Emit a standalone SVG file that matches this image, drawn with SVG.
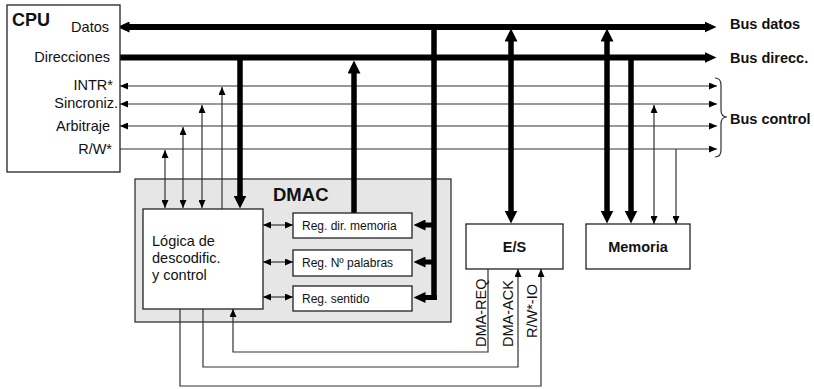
<svg xmlns="http://www.w3.org/2000/svg" width="814" height="389" viewBox="0 0 814 389">
<style>
text{font-family:"Liberation Sans",Arial,sans-serif;fill:#111;}
.t{font-size:14.5px;}
.b{font-weight:bold;font-size:14.5px;}
.r{font-size:12px;}
.box{fill:#fff;stroke:#222;stroke-width:1.3;}
.thick{stroke:#000;stroke-width:6;fill:none;}
.tv{stroke:#000;stroke-width:5.5;fill:none;}
.thin{stroke:#333;stroke-width:1.2;fill:none;}
</style>
<defs>
<marker id="ah" markerUnits="userSpaceOnUse" markerWidth="13" markerHeight="13" refX="0.5" refY="6.5" orient="auto-start-reverse"><path d="M0,0 L13,6.5 L0,13 z" fill="#000"/></marker>
<marker id="ahs" markerUnits="userSpaceOnUse" markerWidth="12" markerHeight="11" refX="0.5" refY="5.5" orient="auto-start-reverse"><path d="M0,0 L12,5.5 L0,11 z" fill="#000"/></marker>
<marker id="at" markerUnits="userSpaceOnUse" markerWidth="8" markerHeight="7" refX="8" refY="3.5" orient="auto-start-reverse"><path d="M0,0 L8,3.5 L0,7 z" fill="#000"/></marker>
</defs>

<g id="dmac">
<rect x="135" y="179" width="316" height="143" fill="#e6e6e6" stroke="#333" stroke-width="1.3"/>
<text x="273" y="201" style="font-weight:bold;font-size:18.5px">DMAC</text>
</g>

<g id="connectors">
<!-- buses -->
<line class="thick" x1="129" y1="27" x2="705" y2="27" marker-start="url(#ahs)" marker-end="url(#ahs)"/>
<line class="thick" x1="120" y1="57.5" x2="705" y2="57.5" marker-end="url(#ahs)"/>
<line class="thin" x1="120" y1="86" x2="717" y2="86" marker-start="url(#at)" marker-end="url(#at)"/>
<line class="thin" x1="120" y1="104" x2="717" y2="104" marker-start="url(#at)" marker-end="url(#at)"/>
<line class="thin" x1="120" y1="126" x2="717" y2="126" marker-start="url(#at)" marker-end="url(#at)"/>
<line class="thin" x1="120" y1="149" x2="717" y2="149" marker-end="url(#at)"/>
<!-- CPU control to logic -->
<line class="thin" x1="165" y1="150" x2="165" y2="208" marker-start="url(#at)" marker-end="url(#at)"/>
<line class="thin" x1="183" y1="127" x2="183" y2="208" marker-start="url(#at)" marker-end="url(#at)"/>
<line class="thin" x1="202" y1="105" x2="202" y2="208" marker-start="url(#at)" marker-end="url(#at)"/>
<line class="thin" x1="222" y1="209" x2="222" y2="87" marker-end="url(#at)"/>
<!-- thick verticals -->
<line class="tv" x1="240" y1="55" x2="240" y2="196" marker-end="url(#ah)"/>
<line class="tv" x1="354" y1="213" x2="354" y2="73" marker-end="url(#ah)"/>
<path class="tv" d="M434,24 V300"/>
<line stroke="#000" stroke-width="5" x1="436" y1="225" x2="425" y2="225" marker-end="url(#ahs)"/>
<line stroke="#000" stroke-width="5" x1="436" y1="262" x2="425" y2="262" marker-end="url(#ahs)"/>
<path stroke="#000" stroke-width="5" fill="none" d="M436.75,297.5 H425" marker-end="url(#ahs)"/>
<line class="tv" x1="511" y1="41" x2="511" y2="211" marker-start="url(#ah)" marker-end="url(#ah)"/>
<line class="tv" x1="607" y1="41" x2="607" y2="211" marker-start="url(#ah)" marker-end="url(#ah)"/>
<line class="tv" x1="631" y1="55" x2="631" y2="211" marker-end="url(#ah)"/>
<!-- memoria control -->
<line class="thin" x1="654" y1="105" x2="654" y2="224" marker-start="url(#at)" marker-end="url(#at)"/>
<line class="thin" x1="676" y1="149" x2="676" y2="224" marker-end="url(#at)"/>
<!-- logic to registers -->
<line class="thin" x1="263" y1="225" x2="293" y2="225" marker-start="url(#at)" marker-end="url(#at)"/>
<line class="thin" x1="263" y1="262" x2="293" y2="262" marker-start="url(#at)" marker-end="url(#at)"/>
<line class="thin" x1="263" y1="297" x2="293" y2="297" marker-start="url(#at)" marker-end="url(#at)"/>
<!-- DMA handshake -->
<path class="thin" d="M180,309 V386 H541 V269" marker-end="url(#at)"/>
<path class="thin" d="M203,309 V367 H518 V269" marker-end="url(#at)"/>
<path class="thin" d="M488,269 V352 H233 V309" marker-end="url(#at)"/>
<!-- brace -->
<path class="thin" d="M715,78 Q721,78 721,85 V110 Q721,117 727,117 Q721,117 721,124 V150 Q721,157 715,157"/>
</g>

<g id="cpu">
<rect class="box" x="7" y="5" width="113" height="167"/>
<text x="12" y="26" style="font-weight:bold;font-size:18px">CPU</text>
<text class="t" x="109" y="32" text-anchor="end">Datos</text>
<text class="t" x="110" y="62" text-anchor="end">Direcciones</text>
<text class="t" x="113" y="90" text-anchor="end">INTR*</text>
<text class="t" x="118" y="108" text-anchor="end">Sincroniz.</text>
<text class="t" x="110" y="131" text-anchor="end">Arbitraje</text>
<text class="t" x="112" y="154" text-anchor="end">R/W*</text>
</g>

<g id="logica">
<rect class="box" x="143" y="209" width="120" height="100"/>
<text class="t" x="152" y="246">Lógica de</text>
<text class="t" x="152" y="263">descodific.</text>
<text class="t" x="152" y="280">y control</text>
</g>

<g id="reg-dir">
<rect class="box" x="293" y="213" width="119" height="25"/>
<text class="r" x="302" y="230">Reg. dir. memoria</text>
</g>
<g id="reg-palabras">
<rect class="box" x="293" y="250" width="119" height="26"/>
<text class="r" x="302" y="267">Reg. Nº palabras</text>
</g>
<g id="reg-sentido">
<rect class="box" x="293" y="286" width="119" height="25"/>
<text class="r" x="302" y="303">Reg. sentido</text>
</g>

<g id="es">
<rect class="box" x="466" y="224" width="97" height="45"/>
<text class="b" x="514.5" y="252" text-anchor="middle">E/S</text>
</g>
<g id="memoria">
<rect class="box" x="586" y="224" width="104" height="45"/>
<text class="b" x="638" y="252" text-anchor="middle">Memoria</text>
</g>

<g id="labels">
<text class="t" transform="translate(486,347) rotate(-90)">DMA-REQ</text>
<text class="t" transform="translate(513,347) rotate(-90)">DMA-ACK</text>
<text class="t" transform="translate(537,338) rotate(-90)">R/W*-IO</text>
<text class="b" x="730" y="29">Bus datos</text>
<text class="b" x="730" y="63">Bus direcc.</text>
<text class="b" x="730" y="124">Bus control</text>
</g>
</svg>
